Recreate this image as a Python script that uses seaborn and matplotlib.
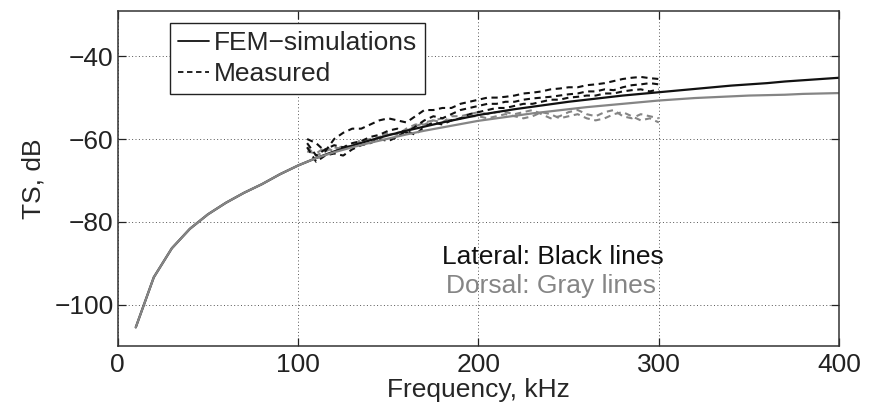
import numpy as np
import pandas as pd
import matplotlib
matplotlib.use("Agg")
import matplotlib.pyplot as plt
from matplotlib.lines import Line2D
import seaborn as sns

# ---------------- data ----------------
fem_freq = [10, 20, 30, 40, 50, 60, 70, 80, 90, 100, 110, 120, 130, 140, 150, 160, 170, 180, 190, 200,
            210, 220, 230, 240, 250, 260, 270, 280, 290, 300, 310, 320, 330, 340, 350, 360, 370, 380, 390, 400]
fem_lateral = [-105.5, -93.4, -86.4, -81.7, -78.2, -75.4, -73.0, -70.9, -68.5, -66.4, -64.6, -63.0, -61.6,
               -60.3, -59.1, -58.0, -57.0, -56.0, -55.1, -54.2, -53.5, -52.8, -52.2, -51.6, -51.0, -50.5,
               -50.0, -49.5, -49.1, -48.7, -48.3, -47.9, -47.5, -47.1, -46.8, -46.5, -46.1, -45.8, -45.5, -45.2]
fem_dorsal = [-105.5, -93.4, -86.4, -81.7, -78.2, -75.4, -73.0, -70.9, -68.5, -66.4, -64.6, -63.2, -62.0,
              -60.9, -59.9, -58.9, -58.0, -57.2, -56.4, -55.6, -55.0, -54.4, -53.8, -53.3, -52.8, -52.3,
              -51.9, -51.5, -51.1, -50.7, -50.4, -50.1, -49.9, -49.7, -49.5, -49.4, -49.3, -49.1, -49.0, -48.9]

meas_freq = [105, 110, 115, 120, 125, 130, 135, 140, 145, 150, 155, 160, 165, 170, 175, 180, 185, 190, 195, 200,
             205, 210, 215, 220, 225, 230, 235, 240, 245, 250, 255, 260, 265, 270, 275, 280, 285, 290, 295, 300]
meas_lateral_1 = [-60, -61, -63, -60, -58.5, -57.5, -57.5, -56.5, -55.5, -55, -55.5, -56, -54.5, -53, -53, -52.5,
                  -52.5, -51.5, -51, -50.5, -50, -50, -49.8, -49.5, -49, -48.8, -48.5, -48, -47.8, -47.5, -47.5,
                  -47, -46.8, -46.5, -46, -45.5, -45.2, -45, -45.3, -45.5]
meas_lateral_2 = [-61, -64, -62.5, -61.5, -62, -61, -60.5, -59.5, -59, -58, -57.5, -58.5, -57, -55.5, -54.5, -55,
                  -54, -53, -52.5, -52, -51.5, -51.5, -51, -51, -50.5, -50.2, -50, -49.8, -49.5, -49.2, -49,
                  -48.5, -48.5, -48, -48.2, -47.5, -47, -46.8, -46.5, -46.8]
meas_lateral_3 = [-62, -65.5, -64, -63.5, -64, -62.5, -61.5, -61, -60, -60.5, -59.5, -58, -59, -57, -56, -56.5,
                  -55.5, -55, -54, -53.5, -53, -52.5, -52.5, -52, -51.5, -51.5, -51, -50.5, -50.5, -50, -49.8,
                  -49.5, -49.5, -49, -49, -48.5, -48.2, -48, -48.5, -48]
meas_dorsal_1 = [-62, -64, -63, -62, -62.5, -61.5, -60.5, -60, -59.5, -59, -58.5, -58, -57, -56, -55.5, -55,
                 -55.5, -55, -54.5, -54.5, -55, -54.5, -54, -54.5, -55, -54.5, -53.5, -54, -55, -54.5, -54,
                 -55, -55.5, -55, -54, -53.5, -54.5, -55.5, -55, -56]
meas_dorsal_2 = [-63, -63.5, -62, -63, -61.5, -62, -60, -61, -59.5, -58.5, -59, -57.5, -56.5, -56.5, -55.5, -56,
                 -54.5, -54.5, -54, -53.5, -54, -53.5, -53.5, -54, -53.5, -53, -54, -55, -54.5, -53.5, -53,
                 -54, -54.5, -53.5, -53, -54.5, -55, -54, -54.5, -55]

x_ticks = [0, 100, 200, 300, 400]
y_ticks = [-100, -80, -60, -40]

BLACK = "#111111"
GRAY = "#858585"
FS = 19

# ---------------- style ----------------
sns.set_style("ticks")
plt.rcParams["font.family"] = ["Liberation Sans", "DejaVu Sans"]
plt.rcParams["axes.unicode_minus"] = True

fig = plt.figure(figsize=(8.94, 4.07), dpi=100)
ax = fig.add_axes([0.1317, 0.150, 0.807, 0.8237])

# measured (dashed)
for ys, col in [(meas_dorsal_1, GRAY), (meas_dorsal_2, GRAY),
                (meas_lateral_1, BLACK), (meas_lateral_2, BLACK), (meas_lateral_3, BLACK)]:
    df = pd.DataFrame({"f": meas_freq, "ts": ys})
    sns.lineplot(data=df, x="f", y="ts", ax=ax, color=col, lw=1.5,
                 linestyle=(0, (3.0, 2.2)), legend=False)

# FEM (solid): lateral first, dorsal drawn on top
df_l = pd.DataFrame({"f": fem_freq, "ts": fem_lateral})
df_d = pd.DataFrame({"f": fem_freq, "ts": fem_dorsal})
sns.lineplot(data=df_l, x="f", y="ts", ax=ax, color=BLACK, lw=1.6, legend=False)
sns.lineplot(data=df_d, x="f", y="ts", ax=ax, color=GRAY, lw=1.6, legend=False)

ax.set_xlim(0, 400)
ax.set_ylim(-110, -29)
ax.set_xticks(x_ticks)
ax.set_yticks(y_ticks)
ax.tick_params(direction="in", length=6, width=0.9, labelsize=FS, colors="#222222",
               top=True, right=True, pad=3)
ax.tick_params(axis="x", pad=5)
for s in ax.spines.values():
    s.set_color("#333333")
    s.set_linewidth(1.1)
ax.grid(True, linestyle=(0, (1, 2.5)), color="#555555", linewidth=0.7)

ax.set_xlabel("Frequency, kHz", fontsize=FS, labelpad=1)
ax.set_ylabel("TS, dB", fontsize=FS, labelpad=6)

handles = [Line2D([], [], color=BLACK, lw=1.3),
           Line2D([], [], color=BLACK, lw=1.3, linestyle=(0, (3.0, 2.0)))]
leg = ax.legend(handles, ["FEM\u2212simulations", "Measured"], loc="upper left",
                bbox_to_anchor=(0.073, 0.962), fontsize=FS, frameon=True, fancybox=False,
                framealpha=1, edgecolor="#222222", handlelength=1.15, handletextpad=0.2,
                borderpad=0.3, labelspacing=0.25, borderaxespad=0)
leg.get_frame().set_linewidth(1.0)

ax.text(241, -88.4, "Lateral: Black lines", color=BLACK, fontsize=FS, ha="center", va="center")
ax.text(240, -95.6, "Dorsal: Gray lines", color=GRAY, fontsize=FS, ha="center", va="center")

fig.savefig("out.png", dpi=100)
